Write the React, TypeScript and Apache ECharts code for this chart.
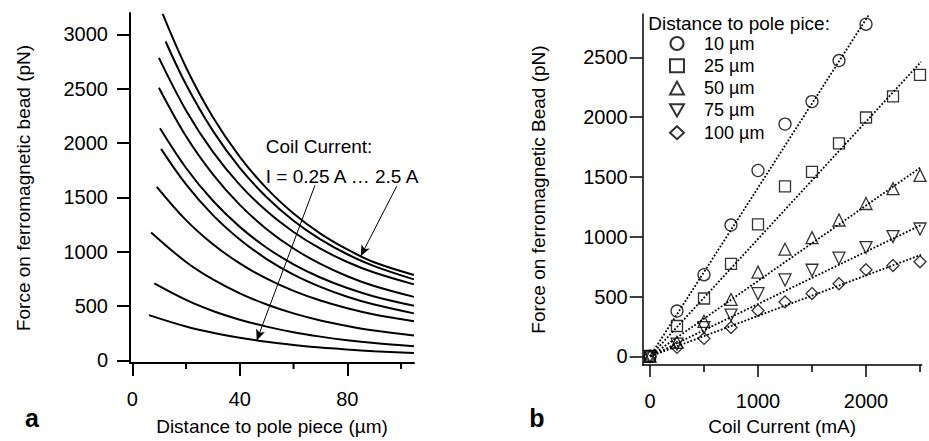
import React, { useEffect, useRef } from "react";
import * as echarts from "echarts";

// ---------- Panel a: force vs distance, one curve per coil current ----------
const curveStartX = [11.3, 12.4, 9.9, 9.9, 10.3, 10.7, 9.1, 7.0, 8.2, 6.2];
const curveX = [20, 30, 40, 50, 60, 70, 80, 90, 104.8];
// first value = value at curveStartX, then values at curveX
const curve1 = [3187, 2695, 2237, 1873, 1582, 1351, 1166, 1020, 902, 785];
const curve2 = [2934, 2538, 2111, 1771, 1501, 1285, 1113, 976, 867, 745];
const curve3 = [2783, 2299, 1918, 1615, 1373, 1181, 1027, 905, 808, 699];
const curve4 = [2509, 2062, 1711, 1430, 1207, 1029, 887, 774, 684, 584];
const curve5 = [2135, 1770, 1468, 1228, 1036, 884, 762, 665, 588, 502];
const curve6 = [1946, 1619, 1336, 1112, 932, 789, 676, 585, 513, 432];
const curve7 = [1597, 1290, 1068, 892, 751, 639, 550, 479, 422, 359];
const curve8 = [1177, 905, 744, 616, 514, 432, 367, 316, 274, 228];
const curve9 = [708, 556, 454, 374, 310, 258, 218, 185, 159, 130];
const curve10 = [416, 311, 253, 207, 170, 141, 117, 99, 84, 67];
const curves = [curve1, curve2, curve3, curve4, curve5, curve6, curve7, curve8, curve9, curve10];

const leftXMajor = [0, 40, 80];
const leftXMinor = [20, 60, 100];
const leftYTicks = [0, 500, 1000, 1500, 2000, 2500, 3000];

// annotation arrows (data coordinates): [start, end]
const arrowLow = [[67.98, 1611], [46.29, 182]];
const arrowHigh = [[98.38, 1602], [84.99, 958]];

// ---------- Panel b: force vs coil current ----------
const currents = [0, 250, 500, 750, 1000, 1250, 1500, 1750, 2000, 2250, 2500];
const f10 = [0, 379, 683, 1098, 1554, 1942, 2130, 2473, 2777];
const f25 = [0, 254, 484, 774, 1104, 1422, 1543, 1781, 1997, 2174, 2354];
const f50 = [0, 118, 293, 476, 704, 896, 993, 1140, 1278, 1402, 1513];
const f75 = [0, 102, 241, 345, 524, 639, 720, 821, 910, 1001, 1065];
const f100 = [0, 75, 150, 241, 383, 455, 525, 607, 724, 760, 791];
const seriesNames = ["10 µm", "25 µm", "50 µm", "75 µm", "100 µm"];
// fitted lines (through origin): end points
const fitEnds = [[2022, 2850], [2509, 2462], [2509, 1582], [2509, 1098], [2509, 849]];

const rightXMajor = [0, 1000, 2000];
const rightXMinor = [500, 1500, 2500];
const rightYTicks = [0, 500, 1000, 1500, 2000, 2500];

const LEFT_X_RANGE = [-0.856, 104.82];
const LEFT_Y_RANGE = [-24.6, 3196];
const RIGHT_X_RANGE = [-67.6, 2515.7];
const RIGHT_Y_RANGE = [-72.2, 2862.5];

const FONT = "Liberation Sans, Arial, Helvetica, sans-serif";
const DOWN_TRIANGLE = "path://M0,0L20,0L10,17.32Z";

export default function App() {
  const ref = useRef<HTMLDivElement>(null);
  useEffect(() => {
    if (!ref.current) return;
    const chart = echarts.init(ref.current, undefined, { renderer: "svg" });

    const plain = (v: number) => String(v);
    const axisText = { color: "#000", fontSize: 20, fontFamily: FONT, formatter: plain };
    const nameText = { color: "#000", fontSize: 19, fontFamily: FONT };

    const curveSeries = curves.map((vals, i) => ({
      type: "line",
      xAxisIndex: 0,
      yAxisIndex: 0,
      showSymbol: false,
      symbol: "none",
      smooth: 0.35,
      lineStyle: { color: "#000", width: 2 },
      silent: true,
      data: [[curveStartX[i], vals[0]], ...curveX.map((x, j) => [x, vals[j + 1]])],
      markLine:
        i === 9
          ? {
              silent: true,
              symbol: ["none", "arrow"],
              symbolSize: [7, 11],
              label: { show: false },
              lineStyle: { color: "#000", width: 1, type: "solid" },
              data: [
                [{ coord: arrowLow[0], symbol: "none" }, { coord: arrowLow[1], symbol: "arrow" }],
                [{ coord: arrowHigh[0], symbol: "none" }, { coord: arrowHigh[1], symbol: "arrow" }],
              ],
            }
          : undefined,
    }));

    const symbols = ["circle", "rect", "triangle", DOWN_TRIANGLE, "diamond"];
    const sizes = [12, 11, 12, 12, 12];
    const values = [f10, f25, f50, f75, f100];

    const scatterSeries = values.map((vals, i) => ({
      type: "scatter",
      name: seriesNames[i],
      xAxisIndex: 1,
      yAxisIndex: 1,
      symbol: symbols[i],
      symbolSize: sizes[i],
      itemStyle: { color: "rgba(255,255,255,0)", borderColor: "#000", borderWidth: 1.3 },
      data: vals.map((v, j) => [currents[j], v]),
      z: 3,
    }));

    const fitSeries = fitEnds.map((e) => ({
      type: "line",
      xAxisIndex: 1,
      yAxisIndex: 1,
      symbol: "none",
      silent: true,
      lineStyle: { color: "#000", width: 1.8, type: "dotted" },
      data: [[0, 0], e],
      z: 2,
    }));

    const texts = [
      {
        type: "text",
        x: 648.3,
        y: 23.5,
        style: { text: "Distance to pole pice:", fill: "#000", fontSize: 19, fontFamily: FONT, align: "left", verticalAlign: "middle" },
      },
      {
        type: "text",
        x: 265.7,
        y: 146,
        style: { text: "Coil Current:", fill: "#000", fontSize: 19, fontFamily: FONT, align: "left", verticalAlign: "middle" },
      },
      {
        type: "text",
        x: 265.7,
        y: 176.5,
        style: { text: "I = 0.25 A … 2.5 A", fill: "#000", fontSize: 19, fontFamily: FONT, align: "left", verticalAlign: "middle" },
      },
      {
        type: "text",
        x: 32,
        y: 430,
        style: { text: "a", fill: "#000", fontSize: 25, fontWeight: "bold", fontFamily: FONT, align: "center", verticalAlign: "bottom" },
      },
      {
        type: "text",
        x: 537,
        y: 430,
        style: { text: "b", fill: "#000", fontSize: 25, fontWeight: "bold", fontFamily: FONT, align: "center", verticalAlign: "bottom" },
      },
    ];

    const option = {
      animation: false,
      backgroundColor: "#fff",
      grid: [
        { left: 130, top: 13, width: 284, height: 353 },
        { left: 642.7, top: 14, width: 279, height: 353.7 },
      ],
      xAxis: [
        {
          gridIndex: 0,
          type: "value",
          position: "bottom",
          min: LEFT_X_RANGE[0],
          max: LEFT_X_RANGE[1],
          splitLine: { show: false },
          axisLine: { onZero: false, lineStyle: { color: "#000", width: 2 } },
          axisTick: { customValues: leftXMajor, length: 13, lineStyle: { color: "#000", width: 2 } },
          axisLabel: { customValues: leftXMajor, margin: 26, ...axisText },
          name: "Distance to pole piece (µm)",
          nameLocation: "middle",
          nameGap: 54,
          nameTextStyle: nameText,
        },
        {
          gridIndex: 1,
          type: "value",
          position: "bottom",
          min: RIGHT_X_RANGE[0],
          max: RIGHT_X_RANGE[1],
          splitLine: { show: false },
          axisLine: { onZero: false, lineStyle: { color: "#000", width: 1.5 } },
          axisTick: { customValues: rightXMajor, length: 12, lineStyle: { color: "#000", width: 1.5 } },
          axisLabel: { customValues: rightXMajor, margin: 26, ...axisText },
          name: "Coil Current (mA)",
          nameLocation: "middle",
          nameGap: 52,
          nameTextStyle: nameText,
        },
      ],
      yAxis: [
        {
          gridIndex: 0,
          type: "value",
          min: LEFT_Y_RANGE[0],
          max: LEFT_Y_RANGE[1],
          splitLine: { show: false },
          axisLine: { onZero: false, lineStyle: { color: "#000", width: 2 } },
          axisTick: { customValues: leftYTicks, length: 13, lineStyle: { color: "#000", width: 2 } },
          axisLabel: { customValues: leftYTicks, margin: 22, ...axisText },
          name: "Force on ferromagnetic bead (pN)",
          nameLocation: "middle",
          nameGap: 97,
          nameTextStyle: nameText,
        },
        {
          gridIndex: 1,
          type: "value",
          min: RIGHT_Y_RANGE[0],
          max: RIGHT_Y_RANGE[1],
          splitLine: { show: false },
          axisLine: { onZero: false, lineStyle: { color: "#000", width: 1.5 } },
          axisTick: { customValues: rightYTicks, length: 13, lineStyle: { color: "#000", width: 1.5 } },
          axisLabel: { customValues: rightYTicks, margin: 15, ...axisText },
          name: "Force on ferromagnetic Bead (pN)",
          nameLocation: "middle",
          nameGap: 95,
          nameTextStyle: nameText,
        },
      ],
      legend: {
        data: seriesNames,
        orient: "vertical",
        left: 669,
        top: 34.5,
        itemWidth: 14,
        itemHeight: 13,
        itemGap: 4.3,
        padding: 0,
        selectedMode: false,
        textStyle: { color: "#000", fontSize: 18, lineHeight: 18, fontFamily: FONT, padding: [0, 0, 0, 15] },
      },
      graphic: texts,
      series: [...curveSeries, ...fitSeries, ...scatterSeries],
    };

    chart.setOption(option as any);

    // minor ticks placed through the axes' own scales
    const minorTicks: any[] = [];
    const leftAxisY = chart.convertToPixel({ yAxisIndex: 0 } as any, LEFT_Y_RANGE[0]) as number;
    leftXMinor.forEach((v) => {
      const px = chart.convertToPixel({ xAxisIndex: 0 } as any, v) as number;
      minorTicks.push({
        type: "line",
        silent: true,
        shape: { x1: px, y1: leftAxisY, x2: px, y2: leftAxisY + 6 },
        style: { stroke: "#000", lineWidth: 2 },
      });
    });
    const rightAxisY = chart.convertToPixel({ yAxisIndex: 1 } as any, RIGHT_Y_RANGE[0]) as number;
    rightXMinor.forEach((v) => {
      const px = chart.convertToPixel({ xAxisIndex: 1 } as any, v) as number;
      minorTicks.push({
        type: "line",
        silent: true,
        shape: { x1: px, y1: rightAxisY, x2: px, y2: rightAxisY + 7 },
        style: { stroke: "#000", lineWidth: 1.5 },
      });
    });
    chart.setOption({ graphic: [...texts, ...minorTicks] } as any);

    return () => chart.dispose();
  }, []);

  return (
    <div
      ref={ref}
      style={{ position: "fixed", left: 0, top: 0, width: 929, height: 441, background: "#fff" }}
    />
  );
}
